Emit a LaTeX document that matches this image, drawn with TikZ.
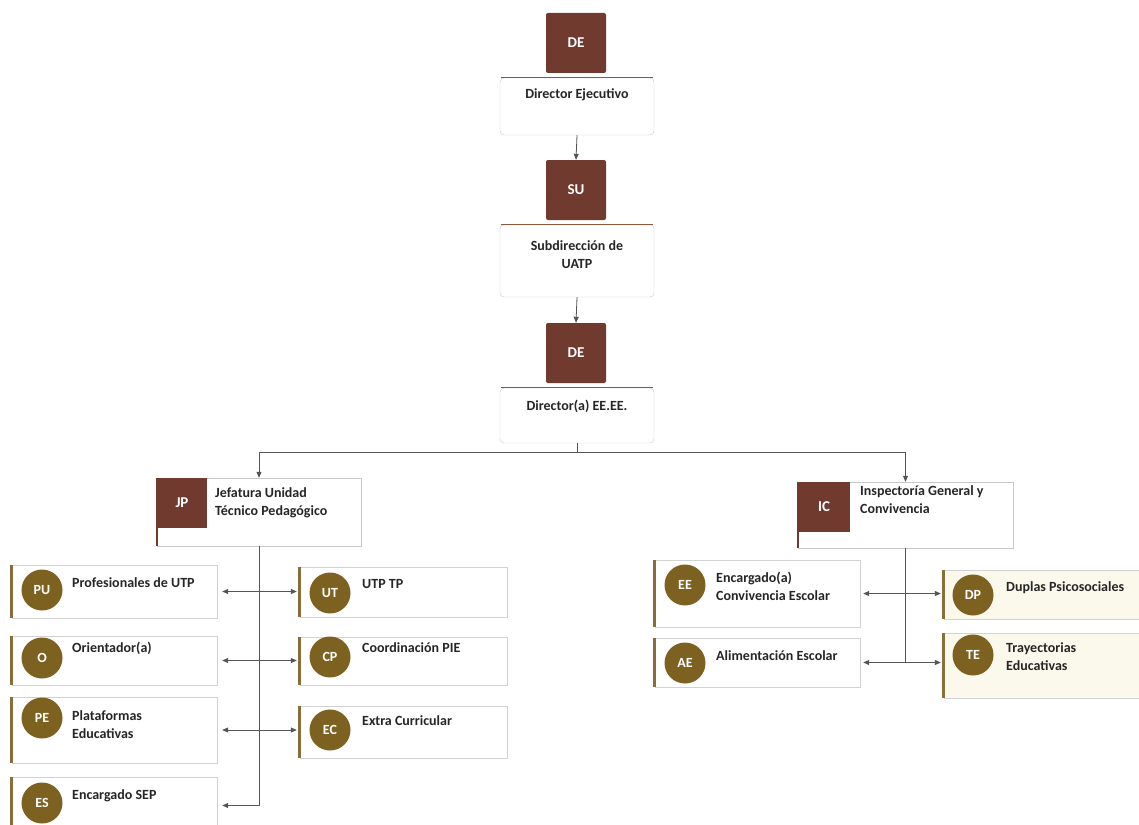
\documentclass[tikz,border=0pt]{standalone}
\usepackage{fontspec}
\setmainfont{Carlito}
\usetikzlibrary{arrows.meta}
\definecolor{sqc}{HTML}{703A2F}
\definecolor{circc}{HTML}{7D6121}
\definecolor{barc}{HTML}{8A6E3A}
\definecolor{lnc}{HTML}{555555}
\definecolor{bord}{HTML}{C8C8C8}
\definecolor{topc}{HTML}{8B5A3C}
\definecolor{cream}{HTML}{FBF8EC}
\begin{document}
\begin{tikzpicture}[x=1pt,y=-1pt,
  sqbox/.style={fill=sqc, rounded corners=2pt, minimum width=60pt, minimum height=60pt, text=white, font=\bfseries\fontsize{15}{17}\selectfont, inner sep=0pt},
  topbox/.style={draw=bord, fill=white, rounded corners=4pt, minimum width=154pt, inner sep=0pt},
  headbox/.style={draw=bord, fill=white, inner sep=0pt},
  hsq/.style={fill=sqc, inner sep=0pt, text=white, font=\bfseries\fontsize{15}{17}\selectfont},
  cbox/.style={draw=gray!35, fill=white, inner sep=0pt, minimum width=205pt},
  crbox/.style={cbox, fill=cream},
  circ/.style={circle, fill=circc, minimum size=41pt, inner sep=0pt, text=white, font=\bfseries\fontsize{14}{16}\selectfont},
  lbl/.style={font=\bfseries\fontsize{14}{18}\selectfont, text=black!85, inner sep=0pt, align=left},
  clbl/.style={lbl, align=center},
  barl/.style={draw=barc, line width=3pt},
  topl/.style={draw=topc, line width=1.2pt},
  ln/.style={draw=lnc, line width=0.8pt},
  arr/.style={ln, -{Triangle[length=6pt,width=5pt]}},
  darr/.style={ln, {Triangle[length=6pt,width=5pt]}-{Triangle[length=6pt,width=5pt]}}
]
\useasboundingbox (0,0) rectangle (1139,824);
\fill[white] (0,0) rectangle (1139,824);

% top chain
\node[sqbox] (de1) at (576,43) {DE};
\node[topbox, minimum height=57pt] (b1) at (577,106.5) {};
\draw[topl] ([xshift=1pt]b1.north west) -- ([xshift=-1pt]b1.north east);
\node[clbl] (t1) at (577,95) {Director Ejecutivo};

\node[sqbox] (su) at (576,190) {SU};
\node[topbox, minimum height=72pt] (b2) at (577,261) {};
\draw[topl] ([xshift=1pt]b2.north west) -- ([xshift=-1pt]b2.north east);
\node[clbl] (t2) at (577,255) {Subdirección de\\UATP};

\node[sqbox] (de2) at (576,353) {DE};
\node[topbox, minimum height=55pt] (b3) at (577,415.5) {};
\draw[topl] ([xshift=1pt]b3.north west) -- ([xshift=-1pt]b3.north east);
\node[clbl] (t3) at (577,406) {Director(a) EE.EE.};

\draw[arr] (b1.south) -- (su.north);
\draw[arr] (b2.south) -- (de2.north);

% heads
\node[headbox, minimum width=204pt, minimum height=68pt] (jp) at (259,512) {};
\node[hsq, minimum width=50pt, minimum height=50pt] (jpsq) at (182,503) {JP};
\draw[draw=sqc, line width=1.5pt] (jp.north west) -- (jp.south west);
\node[lbl, anchor=west] (jpt) at (215,503) {Jefatura Unidad\\Técnico Pedagógico};

\node[headbox, minimum width=215pt, minimum height=66pt] (ic) at (905.5,515) {};
\node[hsq, minimum width=52pt, minimum height=50pt] (icsq) at (824,507) {IC};
\draw[draw=sqc, line width=1.5pt] (ic.north west) -- (ic.south west);
\node[lbl, anchor=west] (ict) at (860,500) {Inspectoría General y\\Convivencia};

\coordinate (br) at (577,452);
\draw[ln] (b3.south) -- (br);
\draw[arr] (br) -| (jp.north);
\draw[arr] (br) -| (ic.north);

% left children
\node[cbox, minimum height=53pt] (pu) at (114.5,591.5) {};
\draw[barl] (pu.north west) -- (pu.south west);
\node[circ] (puc) at (42,590) {PU};
\node[lbl, anchor=west] (put) at (72,583) {Profesionales de UTP};

\node[cbox, minimum height=49pt] (o) at (114.5,660.5) {};
\draw[barl] (o.north west) -- (o.south west);
\node[circ] (oc) at (42,658) {O};
\node[lbl, anchor=west] (ot) at (72,648) {Orientador(a)};

\node[cbox, minimum height=66pt] (pe) at (114.5,730) {};
\draw[barl] (pe.north west) -- (pe.south west);
\node[circ] (pec) at (42,718) {PE};
\node[lbl, anchor=west] (pet) at (72,725) {Plataformas\\Educativas};

\node[cbox, minimum height=57pt] (es) at (114.5,805.5) {};
\draw[barl] (es.north west) -- (es.south west);
\node[circ] (esc) at (42,803) {ES};
\node[lbl, anchor=west] (est) at (72,796) {Encargado SEP};

% middle children
\node[cbox, minimum width=207pt, minimum height=50pt] (ut) at (403.5,592) {};
\draw[barl] (ut.north west) -- (ut.south west);
\node[circ] (utc) at (330,593) {UT};
\node[lbl, anchor=west] (utt) at (362,584) {UTP TP};

\node[cbox, minimum width=207pt, minimum height=48pt] (cp) at (403.5,661) {};
\draw[barl] (cp.north west) -- (cp.south west);
\node[circ] (cpc) at (330,657) {CP};
\node[lbl, anchor=west] (cpt) at (362,648) {Coordinación PIE};

\node[cbox, minimum width=207pt, minimum height=52pt] (ec) at (403.5,732) {};
\draw[barl] (ec.north west) -- (ec.south west);
\node[circ] (ecc) at (330,730) {EC};
\node[lbl, anchor=west] (ect) at (362,721) {Extra Curricular};

% left connectors
\draw[ln] (jp.south) -- (jp.south |- es.east);
\draw[darr] ([xshift=5pt]pu.east) -- ([xshift=-3pt]pu.east -| ut.west);
\draw[darr] ([xshift=5pt]o.east) -- ([xshift=-3pt]o.east -| cp.west);
\draw[darr] ([xshift=5pt]pe.east) -- ([xshift=-3pt]pe.east -| ec.west);
\draw[arr] (jp.south |- es.east) -- ([xshift=5pt]es.east);

% right children
\node[cbox, minimum height=67pt] (ee) at (757.5,593.5) {};
\draw[barl] (ee.north west) -- (ee.south west);
\node[circ] (eec) at (685,585) {EE};
\node[lbl, anchor=west] (eet) at (716,586) {Encargado(a)\\Convivencia Escolar};

\node[cbox, minimum height=49pt] (ae) at (757.5,662.5) {};
\draw[barl] (ae.north west) -- (ae.south west);
\node[circ] (aec) at (685,663) {AE};
\node[lbl, anchor=west] (aet) at (716,656) {Alimentación Escolar};

\node[crbox, minimum width=196pt, minimum height=49pt] (dp) at (1042,594.5) {};
\draw[barl] (dp.north west) -- (dp.south west);
\node[circ] (dpc) at (973,595) {DP};
\node[lbl, anchor=west] (dpt) at (1006,588) {Duplas Psicosociales};

\node[crbox, minimum width=196pt, minimum height=65pt] (te) at (1042,665.5) {};
\draw[barl] (te.north west) -- (te.south west);
\node[circ] (tec) at (973,655) {TE};
\node[lbl, anchor=west] (tet) at (1006,657) {Trayectorias\\Educativas};

% right connectors
\draw[ln] (ic.south) -- (ic.south |- ae.east);
\draw[darr] ([xshift=3pt]ee.east) -- ([xshift=-3pt]ee.east -| dp.west);
\draw[darr] ([xshift=3pt]ae.east) -- ([xshift=-3pt]ae.east -| te.west);
\end{tikzpicture}
\end{document}
